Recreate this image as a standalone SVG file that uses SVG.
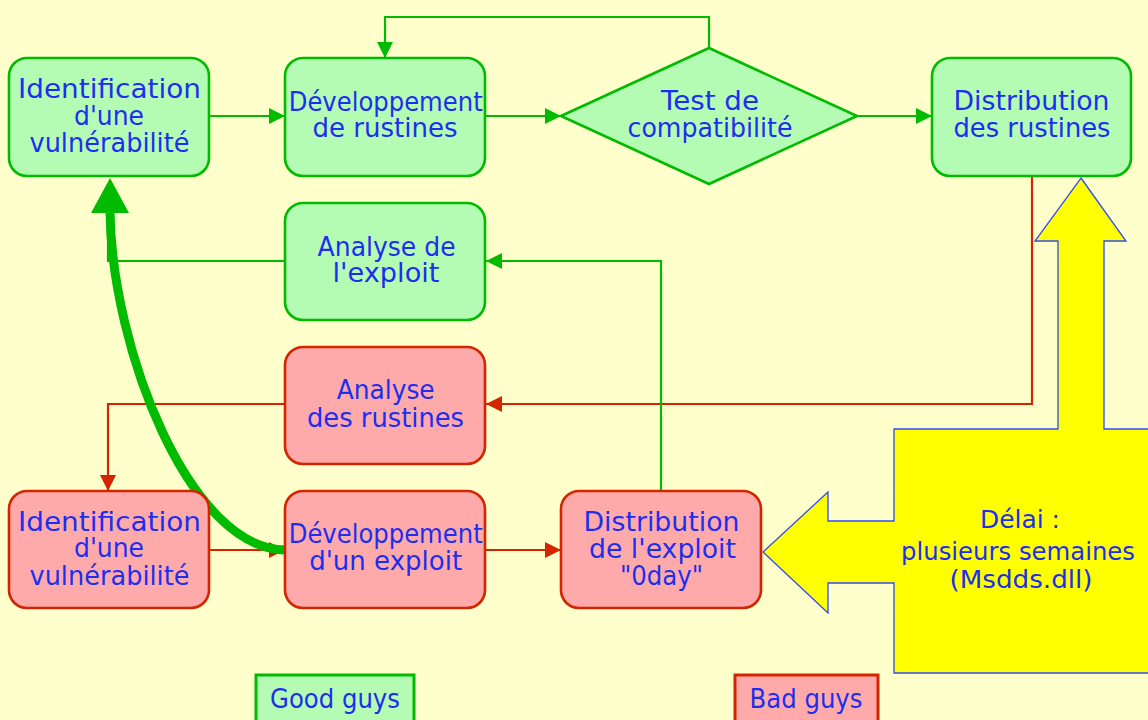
<svg xmlns="http://www.w3.org/2000/svg" width="1148" height="720" viewBox="0 0 1148 720">
<defs>
<style>
.bg{fill:#FFFFCC}
.g{fill:#B4FBB4;stroke:#00BB00;stroke-width:2.6}
.r{fill:#FFAAAA;stroke:#D42400;stroke-width:2.6}
.cg{fill:none;stroke:#00BB00;stroke-width:2.2}
.cr{fill:none;stroke:#D42400;stroke-width:2.2}
text{font-family:"DejaVu Sans","Liberation Sans",sans-serif;font-size:26px;fill:#1C2EF0;text-anchor:middle}
text.s{font-size:24px}
</style>
<marker id="ag" markerUnits="userSpaceOnUse" viewBox="0 0 16 16" refX="16" refY="8" markerWidth="16" markerHeight="16" orient="auto"><path d="M0,0 L16,8 L0,16 z" fill="#00BB00"/></marker>
<marker id="ar" markerUnits="userSpaceOnUse" viewBox="0 0 16 16" refX="16" refY="8" markerWidth="16" markerHeight="16" orient="auto"><path d="M0,0 L16,8 L0,16 z" fill="#D42400"/></marker>
</defs>
<rect class="bg" x="0" y="0" width="1148" height="720"/>

<g id="delay">
<polygon points="1081,178 1126,241 1104,241 1104,429 1160,429 1160,673 894,673 894,583 828,583 828,613 763,552 828,492 828,521 894,521 894,429 1058,429 1058,241 1035,241" fill="#FFFF00" stroke="#2F4CF5" stroke-width="1.3"/>
<text class="s" x="1020" y="528" textLength="80" lengthAdjust="spacingAndGlyphs">Délai :</text>
<text class="s" x="1018" y="560" textLength="234" lengthAdjust="spacingAndGlyphs">plusieurs semaines</text>
<text class="s" x="1021" y="588" textLength="143" lengthAdjust="spacingAndGlyphs">(Msdds.dll)</text>
</g>

<g id="connectors">
<path class="cg" d="M210,116 H285" marker-end="url(#ag)"/>
<path class="cg" d="M486,116 H561" marker-end="url(#ag)"/>
<path class="cg" d="M709,49 V17 H385 V58" marker-end="url(#ag)"/>
<path class="cg" d="M857,116 H932" marker-end="url(#ag)"/>
<path class="cr" d="M1032,177 V404 H486" marker-end="url(#ar)"/>
<path class="cg" d="M661,491 V261 H486" marker-end="url(#ag)"/>
<path class="cg" d="M285,261 H108 V213"/>
<path class="cr" d="M285,404 H108 V491" marker-end="url(#ar)"/>
<path class="cr" d="M210,550 H285" marker-end="url(#ar)"/>
<path class="cr" d="M486,550 H561" marker-end="url(#ar)"/>
<path d="M110,212 C112,350 190,550 286,550" fill="none" stroke="#00BB00" stroke-width="9"/>
<polygon points="110,178 129,213 91,213" fill="#00BB00"/>
</g>

<g id="n-ident-good">
<rect class="g" x="9" y="58" width="200" height="118" rx="18"/>
<text x="109.5" y="98" textLength="183" lengthAdjust="spacingAndGlyphs">Identification</text>
<text x="109" y="125" textLength="70" lengthAdjust="spacingAndGlyphs">d'une</text>
<text x="109.5" y="152" textLength="160" lengthAdjust="spacingAndGlyphs">vulnérabilité</text>
</g>
<g id="n-dev-rustines">
<rect class="g" x="285" y="58" width="200" height="118" rx="18"/>
<text x="385.7" y="111" textLength="194" lengthAdjust="spacingAndGlyphs">Développement</text>
<text x="385" y="137" textLength="145" lengthAdjust="spacingAndGlyphs">de rustines</text>
</g>
<g id="n-test">
<polygon class="g" points="561,116 709,48 857,116 709,184"/>
<text x="710" y="110" textLength="98" lengthAdjust="spacingAndGlyphs">Test de</text>
<text x="710" y="137" textLength="165" lengthAdjust="spacingAndGlyphs">compatibilité</text>
</g>
<g id="n-distrib-rustines">
<rect class="g" x="932" y="58" width="199" height="118" rx="18"/>
<text x="1031.5" y="110" textLength="156" lengthAdjust="spacingAndGlyphs">Distribution</text>
<text x="1032" y="137" textLength="157" lengthAdjust="spacingAndGlyphs">des rustines</text>
</g>
<g id="n-analyse-exploit">
<rect class="g" x="285" y="203" width="200" height="117" rx="18"/>
<text x="386.6" y="256" textLength="138" lengthAdjust="spacingAndGlyphs">Analyse de</text>
<text x="386" y="282" textLength="107" lengthAdjust="spacingAndGlyphs">l'exploit</text>
</g>
<g id="n-analyse-rustines">
<rect class="r" x="285" y="347" width="200" height="117" rx="18"/>
<text x="385.7" y="399" textLength="98" lengthAdjust="spacingAndGlyphs">Analyse</text>
<text x="385.5" y="427" textLength="157" lengthAdjust="spacingAndGlyphs">des rustines</text>
</g>
<g id="n-ident-bad">
<rect class="r" x="9" y="491" width="200" height="117" rx="18"/>
<text x="109.5" y="531" textLength="183" lengthAdjust="spacingAndGlyphs">Identification</text>
<text x="109" y="557" textLength="70" lengthAdjust="spacingAndGlyphs">d'une</text>
<text x="109.5" y="585" textLength="160" lengthAdjust="spacingAndGlyphs">vulnérabilité</text>
</g>
<g id="n-dev-exploit">
<rect class="r" x="285" y="491" width="200" height="117" rx="18"/>
<text x="385.7" y="543" textLength="194" lengthAdjust="spacingAndGlyphs">Développement</text>
<text x="385.7" y="570" textLength="153" lengthAdjust="spacingAndGlyphs">d'un exploit</text>
</g>
<g id="n-distrib-exploit">
<rect class="r" x="561" y="491" width="200" height="117" rx="18"/>
<text x="661.5" y="531" textLength="156" lengthAdjust="spacingAndGlyphs">Distribution</text>
<text x="662.5" y="558" textLength="147" lengthAdjust="spacingAndGlyphs">de l'exploit</text>
<text x="661.5" y="585" textLength="83" lengthAdjust="spacingAndGlyphs">"0day"</text>
</g>
<g id="legend-good">
<rect x="256" y="675" width="158" height="60" fill="#B4FBB4" stroke="#00BB00" stroke-width="3"/>
<text x="335" y="708" textLength="130" lengthAdjust="spacingAndGlyphs">Good guys</text>
</g>
<g id="legend-bad">
<rect x="735" y="675" width="143" height="60" fill="#FFAAAA" stroke="#D42400" stroke-width="3"/>
<text x="806" y="708" textLength="113" lengthAdjust="spacingAndGlyphs">Bad guys</text>
</g>
</svg>
